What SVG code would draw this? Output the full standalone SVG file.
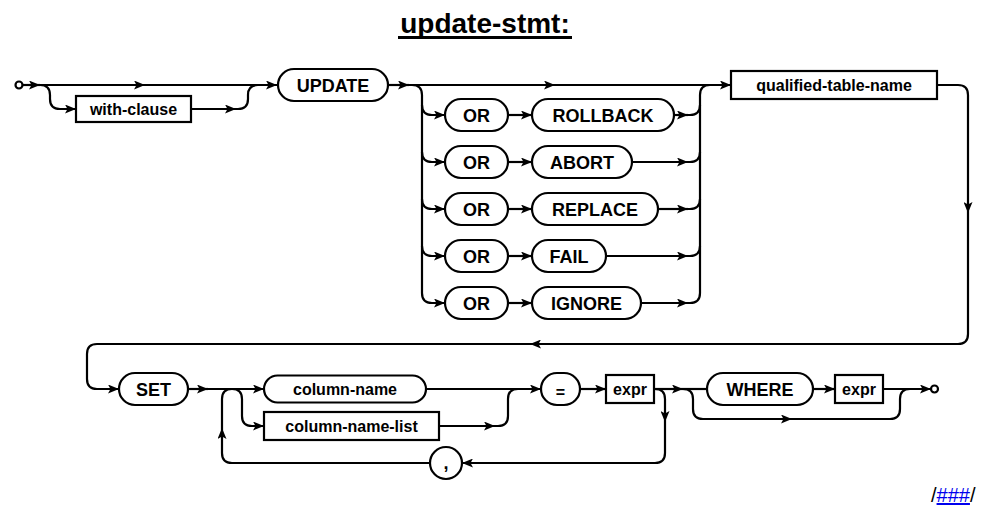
<svg xmlns="http://www.w3.org/2000/svg" width="984" height="508" viewBox="0 0 984 508">
<defs>
<marker id="arr" markerUnits="userSpaceOnUse" markerWidth="12" markerHeight="9" refX="11" refY="4.5" orient="auto">
<path d="M0,0 L11,4.5 L0,9 L2.5,4.5 z" fill="#000"/>
</marker>
<style>
.ln{fill:none;stroke:#000;stroke-width:2.2}
.ar{fill:none;stroke:#000;stroke-width:2.2;marker-end:url(#arr)}
.box{fill:#fff;stroke:#000;stroke-width:2.2}
.kw{font-family:"Liberation Sans",Arial,Helvetica,sans-serif;font-weight:bold;font-size:18px;text-anchor:middle;fill:#000}
.nt{font-family:"Liberation Sans",Arial,Helvetica,sans-serif;font-weight:bold;font-size:16px;text-anchor:middle;fill:#000}
.dot{fill:#fff;stroke:#000;stroke-width:2.2}
</style>
</defs>
<rect width="984" height="508" fill="#fff"/>
<g id="title">
<text x="485" y="33" font-family="'Liberation Sans',Arial,sans-serif" font-weight="bold" font-size="28" text-anchor="middle">update-stmt:</text>
<line x1="398" y1="37.5" x2="572" y2="37.5" stroke="#000" stroke-width="3"/>
</g>
<g id="connectors">
<path class="ar" d="M22.5,85 L40,85"/>
<path class="ar" d="M40,85 L145,85"/>
<path class="ar" d="M145,85 L277,85"/>
<path class="ar" d="M40,85 Q50,85 50,95 L50,99 Q50,109 60,109 L76,109"/>
<path class="ar" d="M191,109 L236,109"/>
<path class="ln" d="M236,109 L238,109 Q248,109 248,99 L248,95 Q248,85 258,85"/>
<path class="ar" d="M388,85 L409,85"/>
<path class="ar" d="M409,85 L555,85"/>
<path class="ar" d="M555,85 L731,85"/>
<path class="ar" d="M409,85 L412,85 Q422,85 422,95 L422,293 Q422,303 432,303 L445,303"/>
<path class="ar" d="M422,105 Q422,115 432,115 L445,115"/>
<path class="ar" d="M422,152 Q422,162 432,162 L445,162"/>
<path class="ar" d="M422,199 Q422,209 432,209 L445,209"/>
<path class="ar" d="M422,246 Q422,256 432,256 L445,256"/>
<path class="ar" d="M508,115 L532,115"/>
<path class="ar" d="M508,162 L532,162"/>
<path class="ar" d="M508,209 L532,209"/>
<path class="ar" d="M508,256 L532,256"/>
<path class="ar" d="M508,303 L532,303"/>
<path class="ar" d="M674,115 L688,115"/>
<path class="ar" d="M632,162 L688,162"/>
<path class="ar" d="M658,209 L688,209"/>
<path class="ar" d="M606,256 L688,256"/>
<path class="ar" d="M641,303 L688,303"/>
<path class="ln" d="M688,115 L690,115 Q700,115 700,105"/>
<path class="ln" d="M688,162 L690,162 Q700,162 700,152"/>
<path class="ln" d="M688,209 L690,209 Q700,209 700,199"/>
<path class="ln" d="M688,256 L690,256 Q700,256 700,246"/>
<path class="ln" d="M688,303 L690,303 Q700,303 700,293 L700,95 Q700,85 710,85"/>
<path class="ar" d="M937,85 L958,85 Q968,85 968,95 L968,213"/>
<path class="ar" d="M968,213 L968,334 Q968,344 958,344 L530,344"/>
<path class="ar" d="M530,344 L97,344 Q87,344 87,354 L87,379 Q87,389 97,389 L119,389"/>
<path class="ar" d="M188,389 L208,389"/>
<path class="ar" d="M208,389 L264,389"/>
<path class="ar" d="M430,463 L232,463 Q222,463 222,453 L222,428"/>
<path class="ln" d="M222,428 L222,399 Q222,389 232,389"/>
<path class="ar" d="M232,389 Q242,389 242,399 L242,416 Q242,426 252,426 L264,426"/>
<path class="ar" d="M426,389 L541,389"/>
<path class="ar" d="M439,426 L495,426"/>
<path class="ln" d="M495,426 L498,426 Q508,426 508,416 L508,399 Q508,389 518,389"/>
<path class="ar" d="M580,389 L606,389"/>
<path class="ar" d="M654,389 L683,389"/>
<path class="ln" d="M683,389 L707,389"/>
<path class="ar" d="M655,389 Q665,389 665,399 L665,422"/>
<path class="ar" d="M665,422 L665,453 Q665,463 655,463 L462,463"/>
<path class="ar" d="M683,389 Q693,389 693,399 L693,409 Q693,419 703,419 L792,419"/>
<path class="ln" d="M792,419 L890,419 Q900,419 900,409 L900,399 Q900,389 910,389"/>
<path class="ar" d="M813,389 L835,389"/>
<path class="ar" d="M883,389 L931,389"/>
</g>
<g id="start"><circle class="dot" cx="19" cy="85" r="3.5"/></g>
<g id="end"><circle class="dot" cx="934.5" cy="389" r="3.5"/></g>
<g id="with-clause"><rect class="box" x="76" y="96" width="115" height="26"/><text class="nt" x="133.5" y="114.5">with-clause</text></g>
<g id="update"><rect class="box" x="278" y="69" width="110" height="32" rx="16"/><text class="kw" x="333" y="91.5">UPDATE</text></g>
<g id="or1"><rect class="box" x="445" y="99" width="63" height="32" rx="16"/><text class="kw" x="476.5" y="121.5">OR</text></g>
<g id="rollback"><rect class="box" x="532" y="99" width="142" height="32" rx="16"/><text class="kw" x="603" y="121.5">ROLLBACK</text></g>
<g id="or2"><rect class="box" x="445" y="146" width="63" height="32" rx="16"/><text class="kw" x="476.5" y="168.5">OR</text></g>
<g id="abort"><rect class="box" x="532" y="146" width="100" height="32" rx="16"/><text class="kw" x="582" y="168.5">ABORT</text></g>
<g id="or3"><rect class="box" x="445" y="193" width="63" height="32" rx="16"/><text class="kw" x="476.5" y="215.5">OR</text></g>
<g id="replace"><rect class="box" x="532" y="193" width="126" height="32" rx="16"/><text class="kw" x="595" y="215.5">REPLACE</text></g>
<g id="or4"><rect class="box" x="445" y="240" width="63" height="32" rx="16"/><text class="kw" x="476.5" y="262.5">OR</text></g>
<g id="fail"><rect class="box" x="532" y="240" width="74" height="32" rx="16"/><text class="kw" x="569" y="262.5">FAIL</text></g>
<g id="or5"><rect class="box" x="445" y="287" width="63" height="32" rx="16"/><text class="kw" x="476.5" y="309.5">OR</text></g>
<g id="ignore"><rect class="box" x="532" y="287" width="109" height="32" rx="16"/><text class="kw" x="586.5" y="309.5">IGNORE</text></g>
<g id="qualified-table-name"><rect class="box" x="731" y="71" width="206" height="28"/><text class="nt" x="834" y="90.5">qualified-table-name</text></g>
<g id="set"><rect class="box" x="119" y="373" width="69" height="32" rx="16"/><text class="kw" x="153.5" y="395.5">SET</text></g>
<g id="column-name"><rect class="box" x="264" y="375.5" width="162" height="27" rx="13.5"/><text class="nt" x="345" y="394.5">column-name</text></g>
<g id="column-name-list"><rect class="box" x="264" y="412" width="175" height="28"/><text class="nt" x="351.5" y="431.5">column-name-list</text></g>
<g id="comma"><circle class="box" cx="446" cy="463" r="16"/><text class="kw" x="446" y="469">,</text></g>
<g id="equals"><rect class="box" x="541" y="373" width="39" height="32" rx="16"/><text class="nt" x="560.5" y="398">=</text></g>
<g id="expr1"><rect class="box" x="606" y="375" width="48" height="28"/><text class="nt" x="630" y="394.5">expr</text></g>
<g id="where"><rect class="box" x="707" y="373" width="106" height="32" rx="16"/><text class="kw" x="760" y="395.5">WHERE</text></g>
<g id="expr2"><rect class="box" x="835" y="375" width="48" height="28"/><text class="nt" x="859" y="394.5">expr</text></g>
<g id="footer">
<text x="931" y="502" font-family="'Liberation Sans',Arial,sans-serif" font-size="20">/<tspan fill="#0000ee" text-decoration="underline">###</tspan>/</text>
</g>
</svg>
